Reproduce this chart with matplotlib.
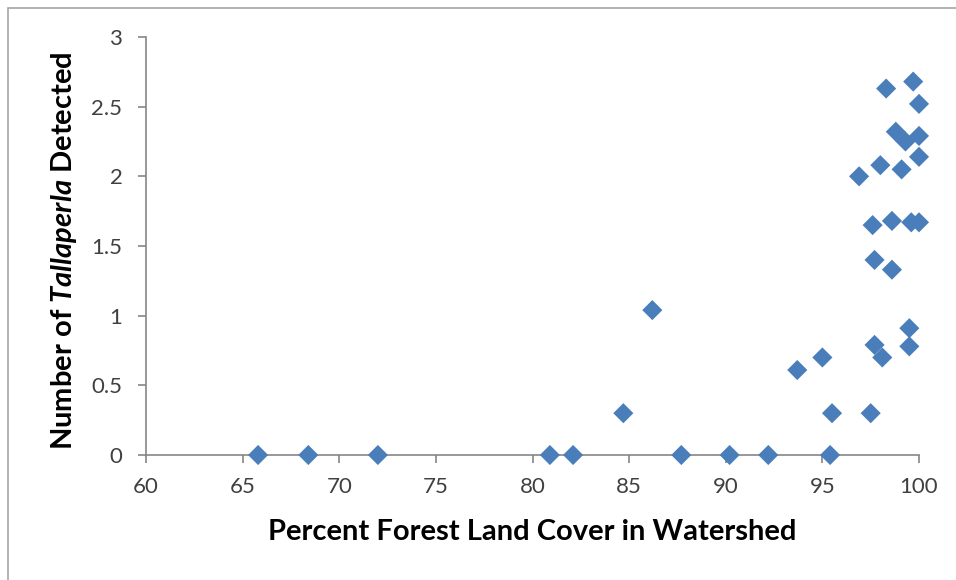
import numpy as np
import matplotlib
matplotlib.use("Agg")
from matplotlib import pyplot as plt
from matplotlib.patches import Rectangle

plt.rcParams['font.family'] = ['Lato', 'DejaVu Sans']
plt.rcParams['mathtext.fontset'] = 'custom'
plt.rcParams['mathtext.rm'] = 'Lato'
plt.rcParams['mathtext.it'] = 'Lato:italic'
plt.rcParams['mathtext.bf'] = 'Lato:bold'
plt.rcParams['mathtext.bfit'] = 'Lato:italic:bold'

# 데이터
forest_pct = [65.8, 68.4, 72.0, 80.9, 82.1, 87.7, 90.2, 92.2, 95.4,
              84.7, 86.2, 93.7, 95.0, 95.5, 97.5, 97.7, 98.1, 99.5, 99.5,
              97.7, 98.6, 97.6, 98.6, 99.6, 100.0, 96.9, 98.0, 99.1,
              98.8, 99.3, 100.0, 100.0, 98.3, 99.7, 100.0]
tallaperla = [0, 0, 0, 0, 0, 0, 0, 0, 0,
              0.30, 1.04, 0.61, 0.70, 0.30, 0.30, 0.79, 0.70, 0.78, 0.91,
              1.40, 1.33, 1.65, 1.68, 1.67, 1.67, 2.00, 2.08, 2.05,
              2.32, 2.25, 2.29, 2.14, 2.63, 2.68, 2.52]
x_ticks = [60, 65, 70, 75, 80, 85, 90, 95, 100]
y_ticks = [0, 0.5, 1, 1.5, 2, 2.5, 3]

fig = plt.figure(figsize=(9.56, 5.8), dpi=100)
# 바깥 테두리
fig.patches.append(Rectangle((8 / 956, -0.1), 1.2, 1 - 8 / 580 + 0.1,
                             transform=fig.transFigure, fill=False,
                             edgecolor='#a6a6a6', linewidth=1.2))

ax = fig.add_axes([146 / 956, 1 - 455 / 580, 773 / 956, 418 / 580])
ax.scatter(forest_pct, tallaperla, marker='D', s=105, color='#4a7ebb',
           edgecolors='none', clip_on=False, zorder=3)

ax.set_xlim(60, 100)
ax.set_ylim(0, 3)
ax.set_xticks(x_ticks)
ax.set_yticks(y_ticks)
ax.set_xticklabels([f'{v:g}' for v in x_ticks])
ax.set_yticklabels([f'{v:g}' for v in y_ticks])

for s in ['top', 'right']:
    ax.spines[s].set_visible(False)
for s in ['left', 'bottom']:
    ax.spines[s].set_color('#868686')
    ax.spines[s].set_linewidth(1.2)
ax.tick_params(direction='out', length=6, width=1.2, color='#868686',
               labelsize=16, labelcolor='#404040')
ax.tick_params(axis='y', pad=11)
ax.tick_params(axis='x', pad=10)

ax.set_xlabel('Percent Forest Land Cover in Watershed', fontsize=21,
              fontweight='bold', va='center')
ax.xaxis.set_label_coords(0.5, (455 - 532) / 418)
ax.set_ylabel(r'Number of $\mathbfit{Tallaperla}$ Detected', fontsize=21,
              fontweight='bold', va='center', ha='center')
ax.yaxis.set_label_coords((64 - 146) / 773, (455 - 251) / 418)

fig.savefig('out.png', dpi=100)
